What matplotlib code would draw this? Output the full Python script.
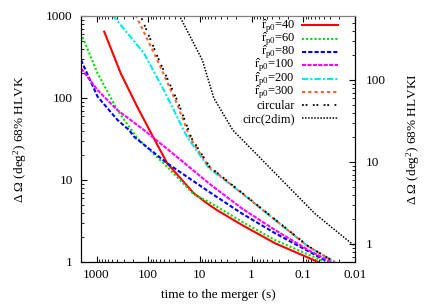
import numpy as np
import matplotlib
matplotlib.use("Agg")
import matplotlib.pyplot as plt
from matplotlib.lines import Line2D

plt.rcParams['font.family'] = ['Liberation Serif', 'DejaVu Serif']
plt.rcParams['mathtext.fontset'] = 'custom'
plt.rcParams['mathtext.rm'] = 'Liberation Serif'
plt.rcParams['mathtext.it'] = 'Liberation Serif:italic'

# time to merger (s) and sky area (deg^2, HLVK)
red_t = [711, 341, 163, 78, 43, 13.2, 6.7, 4.7, 1.54, 0.35, 0.0515]
red_v = [644, 200, 78, 32.3, 16, 6.9, 5.0, 4.3, 2.83, 1.69, 1.0]

green_t = [2000, 957, 394, 163, 43, 13.2, 6.7, 1.54, 0.35, 0.038]
green_v = [615, 200, 71, 32.3, 14.5, 6.7, 5.4, 3.1, 1.85, 1.0]

blue_t = [2000, 957, 394, 235, 188, 43, 6.7, 1.54, 0.35, 0.033]
blue_v = [291, 104, 54, 40.7, 33.7, 16, 7.2, 3.9, 2.24, 1.0]

magenta_t = [2000, 957, 394, 121, 28, 6.7, 1.54, 0.35, 0.08, 0.029]
magenta_v = [230, 125, 71, 40.7, 19.2, 9.1, 4.5, 2.45, 1.40, 1.0]

cyan_t = [492, 121, 50, 17.8, 6.7, 1.54, 0.35, 0.08, 0.0245]
cyan_v = [1030, 351, 125, 33.7, 14.0, 6.9, 3.25, 1.54, 1.0]

orange_t = [175, 67, 28, 15.4, 6.7, 1.54, 0.35, 0.08, 0.0245]
orange_v = [1030, 291, 86, 32.3, 14.5, 6.9, 3.25, 1.54, 1.0]

circ_t = [143, 62, 26, 14.5, 6.5, 1.5, 0.35, 0.08, 0.025]
circ_v = [1030, 291, 86, 32.3, 14.5, 6.9, 3.3, 1.56, 1.0]

circ2_t = [25.4, 9.0, 5.4, 2.32, 0.35, 0.06, 0.0118, 0.01]
circ2_v = [1030, 291, 100, 40.7, 12.1, 3.9, 1.69, 1.57]

labels = [r'$\hat{\mathrm{r}}_{\mathrm{p0}}$=40', r'$\hat{\mathrm{r}}_{\mathrm{p0}}$=60',
          r'$\hat{\mathrm{r}}_{\mathrm{p0}}$=80', r'$\hat{\mathrm{r}}_{\mathrm{p0}}$=100',
          r'$\hat{\mathrm{r}}_{\mathrm{p0}}$=200', r'$\hat{\mathrm{r}}_{\mathrm{p0}}$=300',
          'circular', 'circ(2dim)']

xticks = [1000, 100, 10, 1, 0.1, 0.01]
xticklabels = ['1000', '100', '10', '1', '0.1', '0.01']

series = [(red_t, red_v), (green_t, green_v), (blue_t, blue_v), (magenta_t, magenta_v),
          (cyan_t, cyan_v), (orange_t, orange_v), (circ_t, circ_v), (circ2_t, circ2_v)]
colors = ['#ff0000', '#00e000', '#0000ff', '#ff00ff', '#00e8e8', '#ff6030', 'black', 'black']
widths = [1.5, 1.5, 1.5, 1.5, 1.5, 1.5, 1.3, 1.1]
styles = ['-', (0, (1, 1)), (0, (2, 1)), (0, (2, 0.6)), (0, (3, 1, 1, 1)),
          (0, (1.5, 1.5)), (0, (1, 1, 1, 3)), (0, (1, 1))]

W, H = 436, 305
fig = plt.figure(figsize=(W/100, H/100), dpi=100)
ax = fig.add_axes([81/W, 1-262/H, 274/W, 246/H])

for (t, v), c, lw, ls in zip(series, colors, widths, styles):
    ax.plot(t, v, color=c, lw=lw, ls=ls)

ax.set_xscale('log')
ax.set_yscale('log')
ax.set_xlim(2000, 0.01)
ax.set_ylim(1, 1000)
ax.set_xticks(xticks)
ax.set_xticklabels(xticklabels)
ax.set_yticks([1, 10, 100, 1000])
ax.set_yticklabels(['1', '10', '100', '1000'])
ax.tick_params(which='both', direction='in', top=True, right=False, labelsize=9.5)
ax.tick_params(which='major', length=4, width=0.8)
ax.tick_params(which='minor', length=2, width=0.6)
ax.tick_params(axis='y', pad=6)
ax.tick_params(axis='x', pad=5)
ax.spines['top'].set_color('#808080')

ax.set_xlabel('time to the merger (s)', fontsize=9.5)
ax.set_ylabel(r'Δ Ω (deg$^2$) 68% HLVK', fontsize=9.5)
ax.yaxis.set_label_coords(-0.19, 0.5)
ax.xaxis.set_label_coords(0.5, -0.11)

ax2 = ax.twinx()
ax2.set_yscale('log')
ax2.set_ylim(1000/1660, 1000/1.66)
ax2.set_yticks([1, 10, 100])
ax2.set_yticklabels(['1', '10', '100'])
ax2.tick_params(which='both', direction='in', labelsize=9.5, pad=8)
ax2.tick_params(which='major', length=4, width=0.8)
ax2.tick_params(which='minor', length=2, width=0.6)
ax2.spines['top'].set_color('#808080')
ax2.set_ylabel(r'Δ Ω (deg$^2$) 68% HLVKI', fontsize=9.5)
ax2.yaxis.set_label_coords(1.18, 0.5)

# gnuplot-style key: text right-aligned, sample to its right
for i, lab in enumerate(labels):
    yk = 25.3 + 13.3 * i
    fig.text(295/W, 1 - (yk + 3.5)/H, lab, ha='right', va='baseline', fontsize=9)
    fig.add_artist(Line2D([302/W, 338/W], [1 - yk/H, 1 - yk/H], transform=fig.transFigure,
                          color=colors[i], lw=widths[i], ls=styles[i]))

fig.savefig('out.png', dpi=100)
